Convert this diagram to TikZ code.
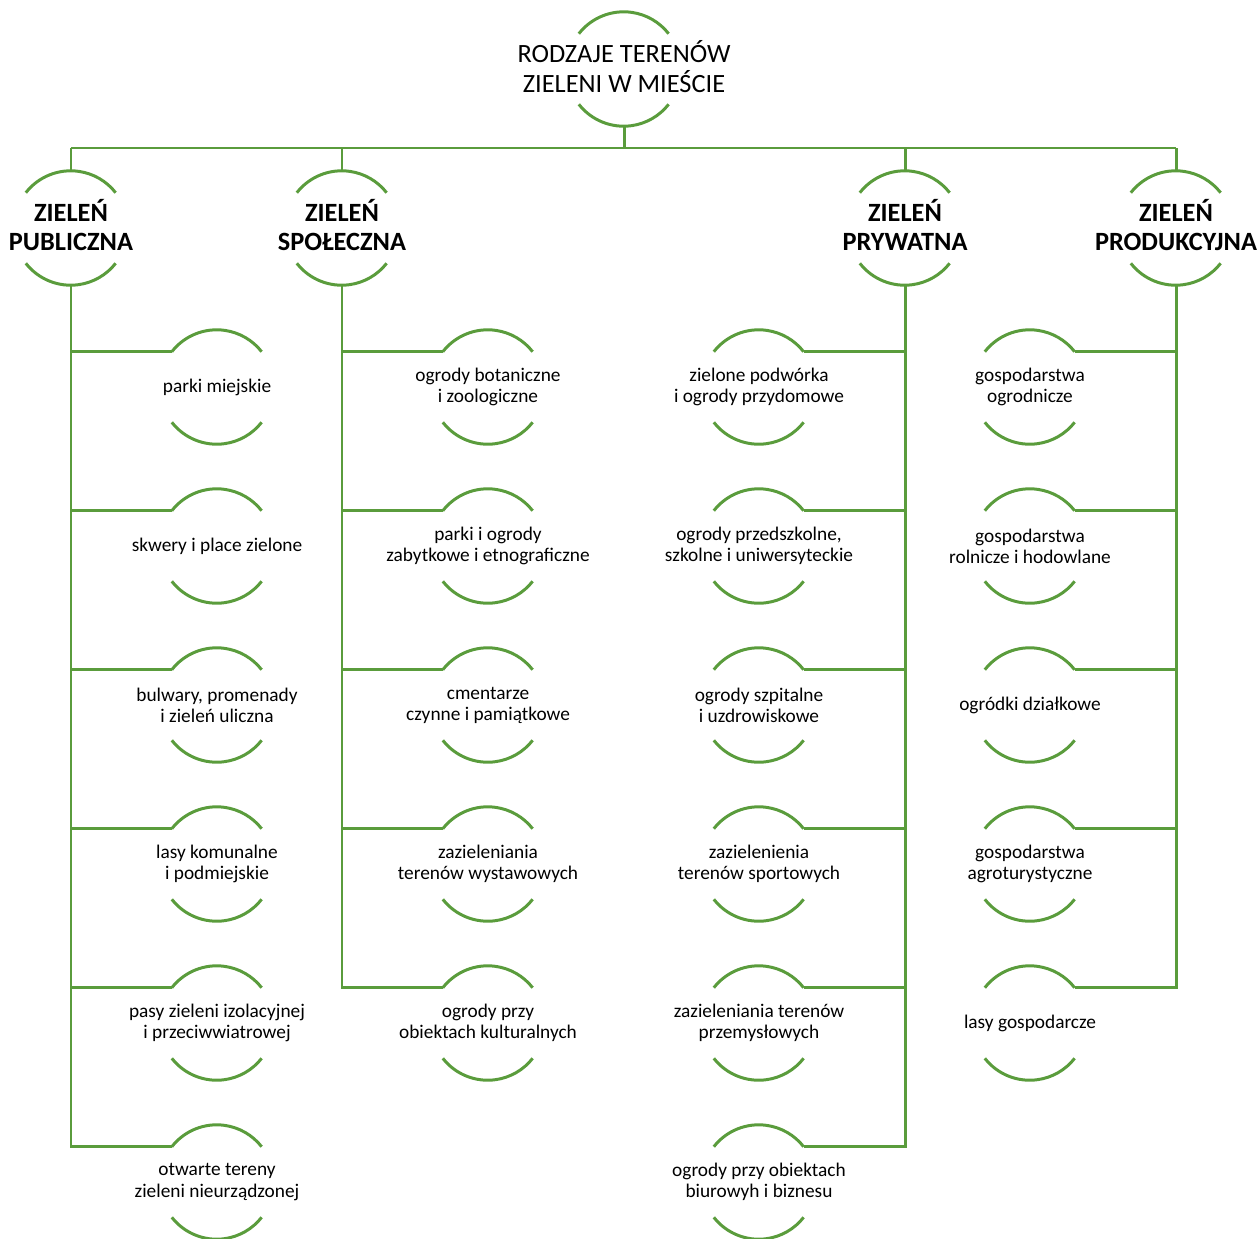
\documentclass[tikz,border=0pt]{standalone}
\usepackage{fontspec}
\setmainfont{Carlito}
\usepackage{xcolor}
\usepackage{tikz}
\usetikzlibrary{positioning}
\definecolor{leafgreen}{RGB}{90,156,60}
\tikzstyle{branch} = [draw=leafgreen, line width=1.7pt]
\tikzstyle{ring} = [circle, minimum size=2.28cm, inner sep=0pt]
\tikzstyle{itemtext} = [align=center, font=\fontsize{11}{12}\selectfont]
\tikzstyle{cattext} = [align=center, yshift=0.06cm, font=\fontsize{15}{16.5}\selectfont\bfseries]
\tikzstyle{titletext} = [align=center, yshift=0.04cm, font=\fontsize{15}{17}\selectfont]
\newcommand{\ringarcs}[1]{%
  \draw [branch] (#1.142) arc[start angle=142, end angle=38, radius=1.14cm];
  \draw [branch] (#1.218) arc[start angle=218, end angle=322, radius=1.14cm];}

\begin{document}
\begin{tikzpicture}[x=0.02cm, y=-0.02cm]
\useasboundingbox (0,0) rectangle (1260,1238);
% Nodes
\node (title) [ring, label={[titletext]center:{RODZAJE TERENÓW\\ZIELENI W MIEŚCIE}}] at (624,69) {};
\coordinate (bus) at (624,148);

\node (pub) [ring, label={[cattext]center:{ZIELEŃ\\PUBLICZNA}}] at (71,228) {};
\node (spol) [ring, label={[cattext]center:{ZIELEŃ\\SPOŁECZNA}}] at (342,228) {};
\node (pryw) [ring, label={[cattext]center:{ZIELEŃ\\PRYWATNA}}] at (905,228) {};
\node (prod) [ring, label={[cattext]center:{ZIELEŃ\\PRODUKCYJNA}}] at (1176,228) {};

\node (parki) [ring, label={[itemtext]center:{parki miejskie}}] at (217,387) {};
\node (skwery) [ring, label={[itemtext]center:{skwery i place zielone}}] at (217,546) {};
\node (bulwary) [ring, label={[itemtext]center:{bulwary, promenady\\i zieleń uliczna}}] at (217,705) {};
\node (lasy) [ring, label={[itemtext]center:{lasy komunalne\\i podmiejskie}}] at (217,864) {};
\node (pasy) [ring, label={[itemtext]center:{pasy zieleni izolacyjnej\\i przeciwwiatrowej}}] at (217,1023) {};
\node (otwarte) [ring, label={[itemtext]center:{otwarte tereny\\zieleni nieurządzonej}}] at (217,1182) {};

\node (botan) [ring, label={[itemtext]center:{ogrody botaniczne\\i zoologiczne}}] at (488,387) {};
\node (zabyt) [ring, label={[itemtext]center:{parki i ogrody\\zabytkowe i etnograficzne}}] at (488,546) {};
\node (cment) [ring, label={[itemtext]center:{cmentarze\\czynne i pamiątkowe}}] at (488,705) {};
\node (wystaw) [ring, label={[itemtext]center:{zazieleniania\\terenów wystawowych}}] at (488,864) {};
\node (kultur) [ring, label={[itemtext]center:{ogrody przy\\obiektach kulturalnych}}] at (488,1023) {};

\node (podw) [ring, label={[itemtext]center:{zielone podwórka\\i ogrody przydomowe}}] at (759,387) {};
\node (szkol) [ring, label={[itemtext]center:{ogrody przedszkolne,\\szkolne i uniwersyteckie}}] at (759,546) {};
\node (szpit) [ring, label={[itemtext]center:{ogrody szpitalne\\i uzdrowiskowe}}] at (759,705) {};
\node (sport) [ring, label={[itemtext]center:{zazielenienia\\terenów sportowych}}] at (759,864) {};
\node (przem) [ring, label={[itemtext]center:{zazieleniania terenów\\przemysłowych}}] at (759,1023) {};
\node (biur) [ring, label={[itemtext]center:{ogrody przy obiektach\\biurowyh i biznesu}}] at (759,1182) {};

\node (ogrodn) [ring, label={[itemtext]center:{gospodarstwa\\ogrodnicze}}] at (1030,387) {};
\node (rolne) [ring, label={[itemtext]center:{gospodarstwa\\rolnicze i hodowlane}}] at (1030,546) {};
\node (dzialki) [ring, label={[itemtext]center:{ogródki działkowe}}] at (1030,705) {};
\node (agro) [ring, label={[itemtext]center:{gospodarstwa\\agroturystyczne}}] at (1030,864) {};
\node (lasygosp) [ring, label={[itemtext]center:{lasy gospodarcze}}] at (1030,1023) {};

% Arcs
\foreach \n in {title,pub,spol,pryw,prod,parki,skwery,bulwary,lasy,pasy,otwarte,
  botan,zabyt,cment,wystaw,kultur,podw,szkol,szpit,sport,przem,biur,
  ogrodn,rolne,dzialki,agro,lasygosp} {\ringarcs{\n}}

% Branches
\draw [branch] (title.270) -- (bus);
\draw [branch] (pub.90 |- bus) -- (prod.90 |- bus);
\draw [branch] (pub.90 |- bus) -- (pub.90);
\draw [branch] (spol.90 |- bus) -- (spol.90);
\draw [branch] (pryw.90 |- bus) -- (pryw.90);
\draw [branch] (prod.90 |- bus) -- (prod.90);

\draw [branch] (pub.270) |- (otwarte.142);
\draw [branch] (pub.270 |- parki.142) -- (parki.142);
\draw [branch] (pub.270 |- skwery.142) -- (skwery.142);
\draw [branch] (pub.270 |- bulwary.142) -- (bulwary.142);
\draw [branch] (pub.270 |- lasy.142) -- (lasy.142);
\draw [branch] (pub.270 |- pasy.142) -- (pasy.142);

\draw [branch] (spol.270) |- (kultur.142);
\draw [branch] (spol.270 |- botan.142) -- (botan.142);
\draw [branch] (spol.270 |- zabyt.142) -- (zabyt.142);
\draw [branch] (spol.270 |- cment.142) -- (cment.142);
\draw [branch] (spol.270 |- wystaw.142) -- (wystaw.142);

\draw [branch] (pryw.270) |- (biur.38);
\draw [branch] (pryw.270 |- podw.38) -- (podw.38);
\draw [branch] (pryw.270 |- szkol.38) -- (szkol.38);
\draw [branch] (pryw.270 |- szpit.38) -- (szpit.38);
\draw [branch] (pryw.270 |- sport.38) -- (sport.38);
\draw [branch] (pryw.270 |- przem.38) -- (przem.38);

\draw [branch] (prod.270) |- (lasygosp.38);
\draw [branch] (prod.270 |- ogrodn.38) -- (ogrodn.38);
\draw [branch] (prod.270 |- rolne.38) -- (rolne.38);
\draw [branch] (prod.270 |- dzialki.38) -- (dzialki.38);
\draw [branch] (prod.270 |- agro.38) -- (agro.38);
\end{tikzpicture}
\end{document}
